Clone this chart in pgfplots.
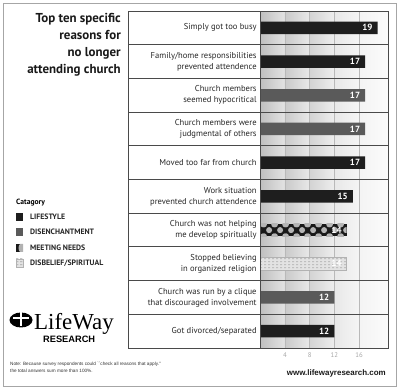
\documentclass[border=0pt]{standalone}
\usepackage{pgfplots}
\pgfplotsset{compat=1.18}
\usepackage{fontspec}
\setmainfont{PT Sans}
\newfontfamily\arialf{Liberation Sans}
\newfontfamily\seriff{Liberation Serif}
\usetikzlibrary{patterns.meta}

\tikzdeclarepattern{
  name=bigdots, type=uncolored,
  bounding box={(0bp,0bp) and (11bp,12bp)},
  tile size={(11bp,12bp)},
  code={\fill (5.5bp,3bp) circle (3.2bp); \fill (0bp,9bp) circle (3.2bp); \fill (11bp,9bp) circle (3.2bp);}
}
\tikzdeclarepattern{
  name=hdash, type=uncolored,
  bounding box={(0bp,0bp) and (4bp,3bp)},
  tile size={(4bp,3bp)},
  code={\fill (0bp,1bp) rectangle (2.7bp,1.9bp);}
}

\definecolor{lifestyle}{HTML}{1E1E1E}
\definecolor{disench}{HTML}{5A5A5A}
\definecolor{tableline}{HTML}{4A4A4A}

\pgfplotstableread{
row val
0 19
1 17
4 17
5 15
9 12
}\lifestyledata
\pgfplotstableread{
row val
2 17
3 17
8 12
}\disenchdata
\pgfplotstableread{
row val
6 14
}\meetingdata
\pgfplotstableread{
row val
7 14
}\disbeliefdata

\begin{document}
\begin{tikzpicture}[x=1bp,y=1bp]
\useasboundingbox (0,0) rectangle (400,389);
% outer frame
\draw[gray!70, line width=0.8bp] (3,3) rectangle (396,386);

\begin{axis}[
  at={(260.3bp,41bp)}, anchor=south west,
  scale only axis, width=127.7bp, height=337bp,
  xbar, bar width=12.5bp, bar shift=0pt,
  xmin=0, xmax=20.7, ymin=-0.5, ymax=9.5, y dir=reverse,
  /pgf/number format/assume math mode=true,
  axis line style={draw=none},
  major tick length=0pt,
  xtick={4,8,12,16},
  xticklabel style={font=\fontsize{6.8}{7}\selectfont, text=gray!70, yshift=-1bp},
  ytick={0,...,9},
  yticklabels={
    Simply got too busy,
    {Family/home responsibilities\\prevented attendence},
    {Church members\\seemed hypocritical},
    {Church members were\\judgmental of others},
    Moved too far from church,
    {Work situation\\prevented church attendence},
    {Church was not helping\\me develop spiritually},
    {Stopped believing\\in organized religion},
    {Church was run by a clique\\that discouraged involvement},
    Got divorced/separated},
  yticklabel style={align=right, font=\fontsize{8.6}{11}\selectfont, text=black!85, inner sep=0pt, xshift=-3.5bp},
  point meta=x,
  nodes near coords,
  nodes near coords style={anchor=east, text=white, font=\bfseries\fontsize{9}{9}\selectfont, xshift=-1.5bp},
  clip=false,
]
% shaded columns of the plot area
\fill[left color=gray!50, right color=gray!22] (axis cs:0,-0.5) rectangle (axis cs:4,9.5);
\fill[left color=gray!42, right color=gray!18] (axis cs:4,-0.5) rectangle (axis cs:8,9.5);
\fill[left color=gray!34, right color=gray!14] (axis cs:8,-0.5) rectangle (axis cs:12,9.5);
\fill[left color=gray!18, right color=gray!8] (axis cs:12,-0.5) rectangle (axis cs:16,9.5);
\fill[left color=gray!9, right color=gray!3] (axis cs:16,-0.5) rectangle (axis cs:20.7,9.5);
\foreach \g in {4,8,12,16} {
  \edef\temp{\noexpand\draw[gray!55, line width=0.5bp] (axis cs:\g,-0.5) -- (axis cs:\g,9.5);}
  \temp
}
\addplot[fill=lifestyle, draw=none] table[x=val, y=row] {\lifestyledata};
\addplot[fill=disench, draw=none] table[x=val, y=row] {\disenchdata};
\addplot[fill=black!90, draw=none, postaction={pattern=bigdots, pattern color=gray!58}] table[x=val, y=row] {\meetingdata};
\addplot[fill=gray!22, draw=gray!60, line width=0.5bp, postaction={pattern=hdash, pattern color=gray!65}] table[x=val, y=row] {\disbeliefdata};
\end{axis}

% table grid
\draw[tableline, line width=0.9bp] (128,41) rectangle (388,378);
\draw[tableline, line width=0.9bp] (260.3,41) -- (260.3,378);
\foreach \k in {1,...,9} {
  \draw[tableline, line width=0.9bp] (128,{378-\k*33.7}) -- (388,{378-\k*33.7});
}

% title
\node[anchor=north east, align=right, inner sep=0pt, font=\bfseries\fontsize{13}{17}\selectfont, text=black!90] at (121,376)
  {Top ten specific\\reasons for\\no longer\\attending church};

% legend
\node[anchor=west, inner sep=0pt, font=\bfseries\fontsize{7.6}{8}\selectfont] at (16,186) {Catagory};
\fill[lifestyle] (16,168) rectangle (23,176);
\fill[disench] (16,153) rectangle (23,161);
\fill[black!90] (16,137) rectangle (23,145);
\fill[gray!60] (20,137) .. controls (18,139) and (18,143) .. (20,145) -- (23,145) -- (23,137) -- cycle;
\fill[gray!22] (16,122) rectangle (23,130);
\fill[pattern=hdash, pattern color=gray!70] (16,122) rectangle (23,130);
\draw[gray!60, line width=0.4bp] (16,122) rectangle (23,130);
\begin{scope}[every node/.style={anchor=west, inner sep=0pt, font=\bfseries\fontsize{7.8}{8}\selectfont, text=black!85}]
\node at (30,172) {LIFESTYLE};
\node at (30,157) {DISENCHANTMENT};
\node at (30,141) {MEETING NEEDS};
\node at (30,126) {DISBELIEF/SPIRITUAL};
\end{scope}

% logo
\fill[black] (21,69) ellipse (11.5 and 7.5);
\fill[white] (19.5,63) rectangle (22,76.5);
\fill[white] (13,70) rectangle (29,72);
\node[anchor=base west, inner sep=0pt, font=\seriff\fontsize{23}{23}\selectfont] at (34,60) {LifeWay};
\node[anchor=base west, inner sep=0pt, font=\arialf\bfseries\fontsize{9.3}{9.3}\selectfont] at (43,46.5) {RESEARCH};

% note
\node[anchor=north west, align=left, inner sep=0pt, font=\arialf\fontsize{4.7}{7}\selectfont, text=black!80] at (10,27)
  {Note: Because survey respondents could ``check all reasons that apply.''\\the total answers sum more than 100\%.};

% url
\node[anchor=base east, inner sep=0pt, font=\arialf\bfseries\fontsize{8}{8}\selectfont, text=black!90] at (386,13.5) {www.lifewayresearch.com};
\end{tikzpicture}
\end{document}
